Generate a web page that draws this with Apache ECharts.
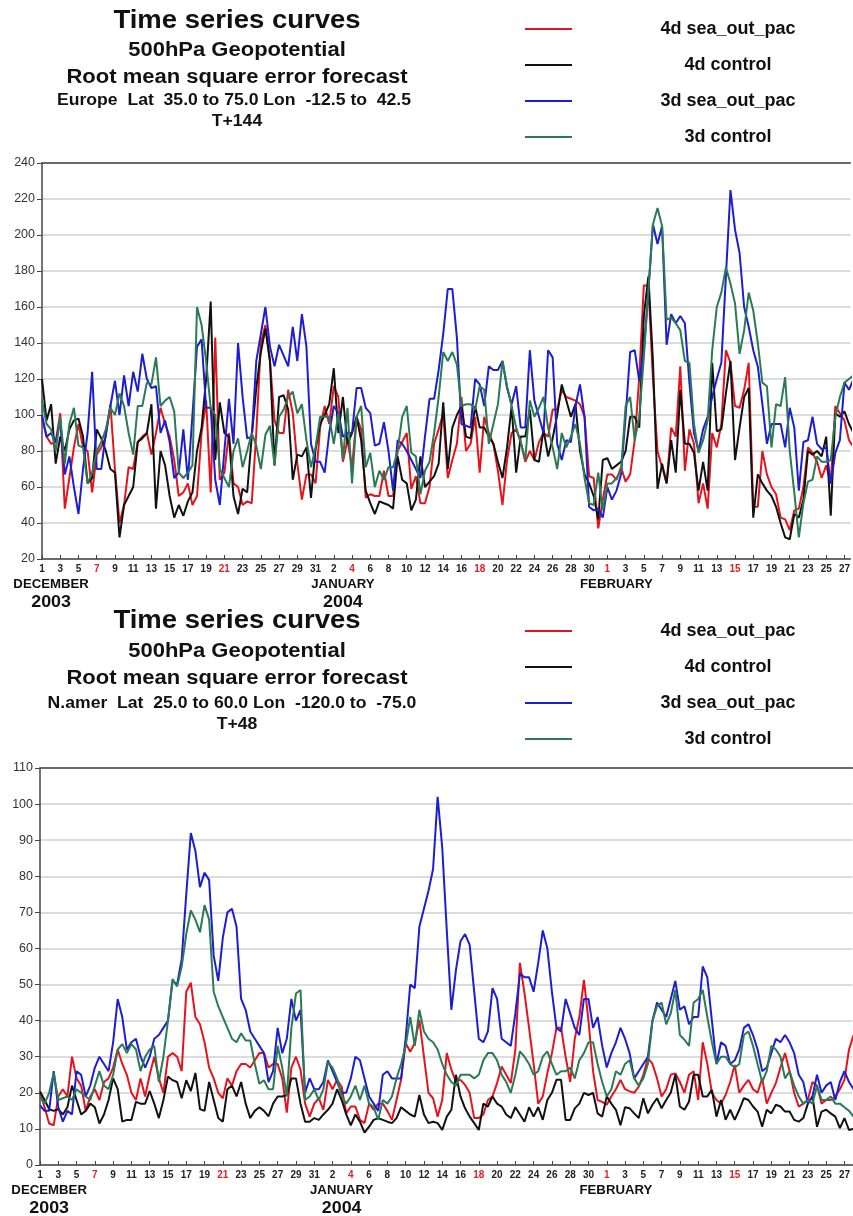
<!DOCTYPE html>
<html>
<head>
<meta charset="utf-8">
<script src="https://cdn.jsdelivr.net/npm/echarts@6/dist/echarts.min.js"></script>
<style>
html,body{margin:0;padding:0;background:#fff;overflow:hidden;}
#chart{width:853px;height:1216px;}
</style>
</head>
<body>
<div id="chart"></div>
<script>
// ---------------- DATA (12-hourly values from 1 Dec 2003 00Z) ----------------
const seriesNames = ['4d sea_out_pac', '4d control', '3d sea_out_pac', '3d control'];

const topTitle = ['Time series curves', '500hPa Geopotential', 'Root mean square error forecast',
  'Europe  Lat  35.0 to 75.0 Lon  -12.5 to  42.5', 'T+144'];
const bottomTitle = ['Time series curves', '500hPa Geopotential', 'Root mean square error forecast',
  'N.amer  Lat  25.0 to 60.0 Lon  -120.0 to  -75.0', 'T+48'];

const monthNames = ['DECEMBER', 'JANUARY', 'FEBRUARY'];
const yearNames = ['2003', '2004'];

// Europe T+144
const europe4dSea = [
  98,88,84,85,101,48,65,82,95,82, 80,57,78,82,88,106,70,40,50,71,
  70,85,88,90,78,90,104,95,88,75, 55,57,62,50,55,90,108,57,143,64,
  68,90,62,60,50,52,51,90,140,150, 130,97,90,90,114,101,73,53,67,67,
  62,93,105,95,116,110,74,86,71,99, 92,54,56,55,55,69,55,55,80,85,
  90,59,66,51,51,60,84,92,101,65, 75,84,110,80,84,99,68,99,90,84,
  69,50,75,90,92,85,74,80,75,85, 90,88,103,103,114,110,109,108,106,99,
  66,65,37,53,67,67,64,71,63,67, 86,121,172,172,120,80,71,62,93,88,
  127,69,92,84,51,62,48,90,82,95, 136,129,105,104,114,129,49,49,80,67,
  60,56,43,42,36,47,48,60,82,79, 74,65,72,62,105,101,97,86,82
];
const europe4dCtl = [
  120,97,106,73,88,80,92,97,98,88, 62,65,92,87,80,70,68,32,50,55,
  60,85,87,90,106,48,80,72,55,43, 50,44,52,57,80,93,120,163,75,107,
  90,88,55,45,59,57,88,115,135,148, 130,72,110,111,103,64,78,77,82,54,
  81,95,100,106,126,90,110,84,90,99, 86,58,51,45,52,51,50,48,77,64,
  62,47,53,77,60,63,66,73,107,70, 93,100,105,88,87,105,93,93,88,84,
  74,65,82,105,68,88,88,103,75,74, 92,77,87,100,117,108,99,106,80,67,
  62,55,42,75,76,70,72,74,80,99, 99,93,155,177,130,59,73,62,86,68,
  114,84,84,79,58,74,58,129,91,92, 112,130,75,93,110,115,43,67,62,58,
  55,49,40,32,31,45,43,53,80,78, 80,77,88,44,101,99,102,95,90
];
const europe3dSea = [
  100,88,90,85,97,67,77,60,45,70, 90,124,70,70,90,105,119,100,122,105,
  124,113,134,120,115,116,90,97,85,65, 68,92,64,100,138,142,104,104,64,50,
  80,109,84,140,110,87,88,130,145,160, 138,127,139,133,127,149,130,156,138,84,
  74,74,68,90,105,101,88,90,90,115, 115,104,101,83,84,96,80,58,86,84,
  80,75,70,65,88,109,109,125,145,170, 170,143,95,94,93,120,117,105,127,125,
  125,130,115,106,116,93,93,136,108,99, 90,136,132,84,75,86,85,105,117,99,
  49,47,48,43,60,53,58,67,99,135, 136,119,136,169,206,195,205,139,156,151,
  155,151,118,90,80,92,99,110,120,129, 177,225,203,190,160,149,136,127,106,84,
  95,95,95,82,104,93,58,85,86,99, 84,81,82,62,79,86,118,114,120
];
const europe3dCtl = [
  108,95,92,80,99,73,95,104,83,82, 62,68,80,85,92,104,100,112,105,90,
  78,105,105,118,117,132,105,108,110,102, 68,65,68,72,160,150,130,104,100,70,
  65,60,80,87,71,80,90,83,70,89, 94,72,99,103,110,113,101,106,86,71,
  82,99,99,99,84,101,75,104,62,99, 105,71,79,60,69,64,71,71,80,99,
  105,79,77,56,69,74,90,110,135,130, 135,128,105,106,106,103,116,114,84,95,
  106,130,116,105,93,85,75,108,99,104, 110,93,82,70,90,82,88,95,84,65,
  51,50,68,47,62,62,65,69,105,110, 86,99,132,169,206,215,205,153,154,151,
  147,130,129,95,79,86,97,136,160,168, 182,173,162,134,147,168,158,140,118,116,
  82,106,105,121,80,57,32,51,63,64, 77,74,74,75,99,110,118,120,122
];

// N. America T+48
const namer4dSea = [
  20,16,11.5,11,19,21,19,30,24,22, 15,19,21,18,23,24,27,32,28,25,
  20,18,24,19,25,30,24,20,30,31, 30,26,48,50.5,41,39,34,27,24,20,
  18.5,24,22,26,28,28,27,29,31,31, 27,28,28,24,14.5,27,30,26.4,17,13.4,
  17,18.5,15.3,23.6,21,23.6,21.7,14.3,16.2,16.2, 12.5,11.6,17,15.3,17,17,15,12.5,18,23.6,
  33.8,31.4,33.8,40.2,30,20,18.5,13.4,18,31, 26.4,23.1,23.6,22.2,20,13,13,14,18,19,
  22.7,27.3,25,22.7,31.9,56,47.6,38,28,17, 19,25.4,31,38,38,30,23,35,41,51.3,
  40,26,18,17.5,16.7,19,21,23.6,21,20.4, 20,21.7,25,29.6,28,24,19,21,25,25.4,
  23,20,25,26,18,34,28,20,18,17, 19.4,23,27.7,20,22,23.6,21,20,24,17,
  20,22.7,27,31,26,20,16.2,17,18,23, 22,17,18,18,19,21,23.6,32,36
];
const namer4dCtl = [
  20.4,18,15.5,15,15.5,14,16,22,18,14, 15,17,16,11.5,14,18,24,21,12,12.5,
  12.5,17.5,17,17,20.5,17,13,18,24.5,23.5, 23,18.5,23.5,20.5,25.5,15.5,15,23,18,13,
  12,21,22,19,23,17,13,15,16,15, 13.5,17,19,19,19.4,24,24,17,12,12,
  13,12.5,14,15.3,17,21,18,14,11,14, 12,9,10.6,12.5,13,12.5,12,11.6,13,16,
  15,14,13.4,19.4,14,11.6,12,11.6,9.7,13.4, 15.3,25,19,15.7,13.4,11.6,9.7,17,16.2,19,
  17,16.2,14,13,16,14,12,16,13.4,16, 12.5,18,20,23.6,23.6,12.5,12.5,15.7,17,20,
  19.4,20,14.3,13.4,19,17,15.3,11,16,15.7, 14.3,13,18.5,14.3,16.7,18.5,15.7,18,20,25,
  16.2,15.3,17.6,25,25,19,19,20.8,13.4,18, 12.5,15.3,12.5,15.3,18.5,18,16.2,14.8,10.6,15.3,
  14.3,16.7,16.2,14.8,14.8,12.5,12,13,17,19, 10.6,14.8,15.3,14.3,13.4,10.2,13,9.7,10
];
const namer3dSea = [
  16.5,15,15,26,16,12,15,14,26,25, 19,22,27,30,28,26,34,46,41,32,
  34,35,30,27,30,35,36,38,40,51, 50,57,75,92,87,77,81,79,58,51,
  63,70,71,66,46,43,37,35,33,31, 23,26,38,31,35,46,40,43,20,24,
  21,21,23,29,26,23,20,20,24,30, 29,24,19,17,15,25,26,24,24,24,
  35,50,49,66,71,76,82,102,88,65, 43,54,62,64,61,48,35,34,37,49,
  46,35,34,33,42,53,52,52,48,56, 65,60,48,38,37,46,42,38,36,46,
  46,38,41,33,27,31,34,38,35,31, 24,26,28,30,40,45,43,41,46,51,
  43,44,39,41,41,55,52,40,28,34, 33,28,29,32,38,39,36,32,26,27,
  31,35,34,36,34,31,25,23,17,19, 25,20,22,23,18,23,26,23,21
];
const namer3dCtl = [
  19,17,20,25.5,18,18.5,19,18,21,20, 19,18,22,26,22,21,25,32,33.5,31,
  33.5,32,26,30,32,33,23,30,40,51.5, 49.5,55,64,70.5,68,64.5,72,68,48,44,
  41,38,35,34,36.5,34.5,34.5,28,22.5,23.5, 21,21,33,27,19,38,47.5,48.5,18,19,
  21,18,21,28.5,27,24,19,17,19,22, 18,22,17,16,12.5,18,17,19,24,28,
  33,41,33,43,37,35,34,32,28,25, 23,22,25,25,25,24,25,29,31,31,
  29,25,23,20,25,31.5,30,28,25,26, 30,31.5,28,25,26,26,27,24,29,31,
  34,34,28,23,19,21,26,25,28,29, 24,22,24,28,40,44,45,39,42,48.5,
  36,34.7,33,45,46,48.5,41,34,28,30, 30,28,27,28,36,37,33,28,23,26,
  33,32,30,24,26,22,19,17,18,17, 22,18,18,19,17,17,16,15,13.4
];

// ---------------- CHART ----------------
const STEP = 0.5; // days between samples (12-hourly)
const colors = ['#e5141c', '#111111', '#1d1dd2', '#2a7a55'];
const FONT = '"Liberation Sans", Arial, Helvetica, sans-serif';
const START = Date.UTC(2003, 11, 1);
const PX_PER_DAY = 9.148;
const W = 853;
const gridDefs = [
  { left: 42, top: 163, height: 396, yMin: 20, yMax: 240, yStep: 20 },
  { left: 40, top: 768, height: 397, yMin: 0, yMax: 110, yStep: 10 }
];

function dayInfo(d) {
  const dt = new Date(START + d * 86400000);
  return { date: dt.getUTCDate(), sunday: dt.getUTCDay() === 0 };
}
function xMaxFor(g) { return (W - g.left) / PX_PER_DAY; }

function xAxisFor(idx) {
  return {
    gridIndex: idx, type: 'value', min: 0, max: xMaxFor(gridDefs[idx]), interval: 2,
    axisLine: { show: true, lineStyle: { color: '#444', width: 1.5 } },
    axisTick: { show: true, inside: true, length: 4, lineStyle: { color: '#444', width: 1 } },
    splitLine: { show: false },
    axisLabel: {
      showMaxLabel: false, margin: 5,
      fontFamily: FONT, fontSize: 10, fontWeight: 'bold', color: '#222',
      formatter: function (v) {
        if (Math.abs(v - Math.round(v)) > 1e-6 || v > 88) return '';
        const inf = dayInfo(Math.round(v));
        return inf.sunday ? '{r|' + inf.date + '}' : String(inf.date);
      },
      rich: { r: { color: '#e0202a', fontFamily: FONT, fontSize: 10, fontWeight: 'bold' } }
    }
  };
}
function topFrameAxis(idx) {
  return {
    gridIndex: idx, type: 'value', position: 'top', min: 0, max: xMaxFor(gridDefs[idx]),
    axisLine: { show: true, lineStyle: { color: '#444', width: 1.5 } },
    axisTick: { show: false }, axisLabel: { show: false }, splitLine: { show: false }
  };
}
function yAxisFor(idx) {
  const g = gridDefs[idx];
  return {
    gridIndex: idx, type: 'value', min: g.yMin, max: g.yMax, interval: g.yStep,
    axisLine: { show: true, lineStyle: { color: '#444', width: 1.5 } },
    axisTick: { show: true, inside: false, length: 5, lineStyle: { color: '#444', width: 1 } },
    splitLine: { show: true, lineStyle: { color: '#d0d0d0', width: 1.5 } },
    axisLabel: { margin: 7, fontFamily: FONT, fontSize: 12.5, color: '#333' }
  };
}
function mkSeries(name, vals, color, idx) {
  return {
    name: name, type: 'line', xAxisIndex: idx, yAxisIndex: idx,
    data: vals.map((v, i) => [i * STEP, v]),
    symbol: 'none', showSymbol: false, clip: true,
    lineStyle: { width: 2, color: color }, itemStyle: { color: color },
    emphasis: { disabled: true }, animation: false
  };
}
function legendFor(top) {
  return {
    data: seriesNames, orient: 'vertical', left: 525, top: top, padding: 0,
    icon: 'rect', itemWidth: 47, itemHeight: 2, itemGap: 18, selectedMode: false,
    formatter: '{t|{name}}',
    textStyle: { rich: { t: { width: 302, align: 'center', fontFamily: FONT, fontSize: 18,
      fontWeight: 'bold', color: '#111', lineHeight: 20 } } }
  };
}

const chart = echarts.init(document.getElementById('chart'), null, { renderer: 'canvas' });
const series = [];
[europe4dSea, europe4dCtl, europe3dSea, europe3dCtl].forEach((v, i) => series.push(mkSeries(seriesNames[i], v, colors[i], 0)));
[namer4dSea, namer4dCtl, namer3dSea, namer3dCtl].forEach((v, i) => series.push(mkSeries(seriesNames[i], v, colors[i], 1)));

chart.setOption({
  animation: false,
  backgroundColor: '#fff',
  grid: gridDefs.map(g => ({ left: g.left, top: g.top, right: 0, height: g.height, show: false })),
  xAxis: [xAxisFor(0), xAxisFor(1), topFrameAxis(0), topFrameAxis(1)],
  yAxis: [yAxisFor(0), yAxisFor(1)],
  legend: [legendFor(20), legendFor(622)],
  series: series
});

// ---------------- TEXT (titles, month/year labels) ----------------
function txt(s, x, y, size, scaleX) {
  return {
    type: 'text', x: x, y: y, scaleX: scaleX || 1, silent: true, z: 10,
    style: { text: s, fontFamily: FONT, fontSize: size, fontWeight: 'bold', fill: '#111',
      align: 'center', verticalAlign: 'middle', textAlign: 'center', textVerticalAlign: 'middle' }
  };
}
const titleSizes = [25, 20, 20, 16, 16];
const topTitleY = [21, 50, 77, 101, 122];
const botTitleY = [621, 651, 678, 704, 725];
const topTitleX = [237, 237, 237, 234, 237];
const botTitleX = [237, 237, 237, 232, 237];
const graphics = [];
topTitle.forEach((s, i) => graphics.push(txt(s, topTitleX[i], topTitleY[i], titleSizes[i], 1.1)));
bottomTitle.forEach((s, i) => graphics.push(txt(s, botTitleX[i], botTitleY[i], titleSizes[i], 1.1)));

const monthAnchor = [1, 33, 63];   // day offsets where month names are centred
const yearAnchor = [1, 33];
[[0, 559], [1, 1165]].forEach(([gi, axisY]) => {
  monthNames.forEach((m, i) => {
    const x = chart.convertToPixel({ xAxisIndex: gi }, monthAnchor[i]);
    graphics.push(txt(m, x, axisY + 26, 12, 1.1));
  });
  yearNames.forEach((yv, i) => {
    const x = chart.convertToPixel({ xAxisIndex: gi }, yearAnchor[i]);
    graphics.push(txt(yv, x, axisY + 43, 17, 1.05));
  });
});
chart.setOption({ graphic: graphics });
</script>
</body>
</html>
